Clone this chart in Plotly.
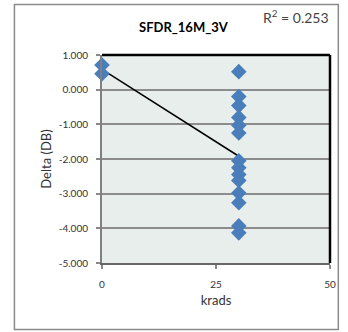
import numpy as np
import plotly.graph_objects as go

# Data
x_krads = [0, 0] + [30] * 14
delta_db = [0.71, 0.46,
            0.52, -0.20, -0.46, -0.80, -1.03, -1.25,
            -2.05, -2.25, -2.45, -2.62, -2.98, -3.26, -3.93, -4.13]
x_ticks = [0, 25, 50]
y_ticks = [1, 0, -1, -2, -3, -4, -5]
title_text = "SFDR_16M_3V"
r2_text = "R<sup>2</sup> = 0.253"

# linear trendline from the data
slope, intercept = np.polyfit(x_krads, delta_db, 1)
trend_x = [min(x_krads), max(x_krads)]
trend_y = [intercept + slope * v for v in trend_x]

W, H = 348, 332
L, R, T, B = 102, 13, 55, 69
pw, ph = W - L - R, H - T - B

font = "Lato, Carlito, 'Liberation Sans', sans-serif"

fig = go.Figure()
fig.add_trace(go.Scatter(x=trend_x, y=trend_y, mode="lines",
                         line=dict(color="black", width=1.5), hoverinfo="skip"))
fig.add_trace(go.Scatter(x=x_krads, y=delta_db, mode="markers", cliponaxis=False,
                         marker=dict(symbol="diamond", size=12, color="#4A7EBB")))

def px_x(p):
    return (p - L) / pw

def px_y(p):
    return (H - B - p) / ph

shapes = [
    # outer chart border
    dict(type="rect", xref="paper", yref="paper",
         x0=px_x(12.5), x1=px_x(343.5), y0=px_y(329.5), y1=px_y(4.5),
         line=dict(color="#8a8a8a", width=1.5)),
    # top and right borders of plot area
    dict(type="line", xref="paper", yref="paper", x0=0, x1=1, y0=1, y1=1,
         line=dict(color="black", width=2.5)),
    dict(type="line", xref="paper", yref="paper", x0=1, x1=1, y0=0, y1=1,
         line=dict(color="black", width=2.5)),
]

fig.update_layout(
    width=W, height=H,
    margin=dict(l=L, r=R, t=T, b=B),
    paper_bgcolor="white",
    plot_bgcolor="#E8EEEB",
    showlegend=False,
    font=dict(family=font, color="#333333", size=10),
    shapes=shapes,
    annotations=[
        dict(text="<b>" + title_text + "</b>", xref="paper", yref="paper",
             x=px_x(186), y=px_y(27), xanchor="center", yanchor="middle",
             showarrow=False,
             font=dict(size=13, color="black", family=font)),
        dict(text=r2_text, xref="paper", yref="paper",
             x=px_x(300), y=px_y(16), xanchor="center", yanchor="middle",
             showarrow=False,
             font=dict(size=14, color="#444444", family=font)),
    ],
)
fig.update_xaxes(
    range=[0, 50], tickvals=x_ticks, ticktext=[str(v) for v in x_ticks],
    showgrid=False, zeroline=False,
    showline=True, linecolor="#666666", linewidth=2,
    ticks="outside", ticklen=4, tickcolor="#888888", tickwidth=1.5,
    ticklabelstandoff=7,
    tickfont=dict(size=10, color="#333333"),
    title=dict(text="krads", font=dict(size=13, color="#333333"), standoff=7),
)
fig.update_yaxes(
    range=[-5, 1], tickvals=y_ticks, ticktext=[f"{v:.3f}" for v in y_ticks],
    showgrid=True, gridcolor="#8C8C8C", gridwidth=2, zeroline=False,
    showline=True, linecolor="#808080", linewidth=2,
    ticks="outside", ticklen=4, tickcolor="#888888", tickwidth=1.5,
    ticklabelstandoff=6,
    tickfont=dict(size=10, color="#333333"),
    title=dict(text="Delta (DB)", font=dict(size=13, color="#333333"), standoff=4),
)

fig.write_html("out.html", config={"displayModeBar": False},
               post_script="document.body.style.margin='0';document.body.style.overflow='hidden';")
